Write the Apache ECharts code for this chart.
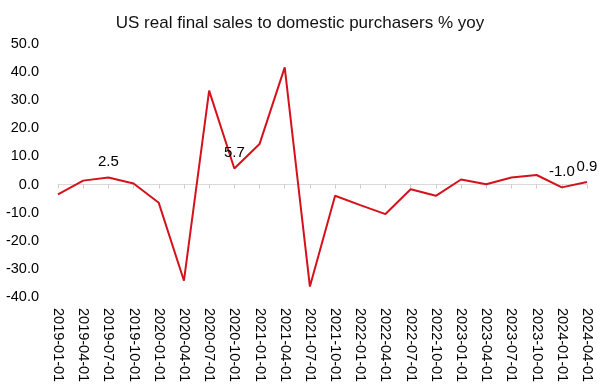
<!DOCTYPE html>
<html>
<head>
<meta charset="utf-8">
<script src="https://cdn.jsdelivr.net/npm/echarts@6/dist/echarts.min.js"></script>
<style>html,body{margin:0;padding:0;background:#fff}#c{width:600px;height:388px}</style>
</head>
<body>
<div id="c"></div>
<script>
const categories = ['2019-01-01','2019-04-01','2019-07-01','2019-10-01','2020-01-01','2020-04-01','2020-07-01','2020-10-01','2021-01-01','2021-04-01','2021-07-01','2021-10-01','2022-01-01','2022-04-01','2022-07-01','2022-10-01','2023-01-01','2023-04-01','2023-07-01','2023-10-01','2024-01-01','2024-04-01'];
const values = [-3.5, 1.4, 2.5, 0.4, -6.5, -34.2, 33.4, 5.7, 14.4, 41.7, -36.3, -4.0, -7.3, -10.5, -1.7, -4.0, 1.8, 0.1, 2.5, 3.4, -1.0, 0.9];
const labeledIdx = [2, 7, 20, 21];
const yTicks = {min: -40, max: 50, interval: 10};

const font = 'Liberation Sans, Arial, sans-serif';
const seriesData = values.map((v, i) => labeledIdx.includes(i)
  ? {value: v, label: {show: true}} : v);

const chart = echarts.init(document.getElementById('c'), null, {renderer: 'canvas'});
chart.setOption({
  animation: false,
  title: {
    text: 'US real final sales to domestic purchasers % yoy',
    left: 'center', top: 10,
    textStyle: {fontFamily: font, fontSize: 17, fontWeight: 'normal', color: '#111'}
  },
  grid: {left: 58, right: 13, top: 44, bottom: 91, containLabel: false},
  xAxis: [{
    type: 'category', data: categories, boundaryGap: false, position: 'bottom',
    axisLine: {show: false, onZero: false}, axisTick: {show: false},
    axisLabel: {rotate: -90, margin: 11, fontFamily: font, fontSize: 14.5, color: '#000', interval: 0}
  }, {
    type: 'category', data: categories, boundaryGap: false, position: 'bottom',
    axisLine: {show: true, onZero: true, lineStyle: {color: '#d9d9d9', width: 1}},
    axisTick: {show: true, length: 4, interval: 0, lineStyle: {color: '#cfcfcf'}},
    axisLabel: {show: false}
  }],
  yAxis: {
    type: 'value', min: yTicks.min, max: yTicks.max, interval: yTicks.interval,
    axisLine: {show: false}, axisTick: {show: false}, splitLine: {show: false},
    axisLabel: {margin: 19, fontFamily: font, fontSize: 14.5, color: '#000',
      formatter: v => v.toFixed(1)}
  },
  series: [{
    type: 'line', xAxisIndex: 0, data: seriesData, showSymbol: true, symbol: 'circle', symbolSize: 0,
    lineStyle: {color: '#d4121b', width: 2},
    itemStyle: {color: '#d4121b'},
    label: {show: false, position: 'top', distance: 8, fontFamily: font, fontSize: 15, color: '#000',
      formatter: p => Number(p.value).toFixed(1)}
  }]
});
</script>
</body>
</html>
